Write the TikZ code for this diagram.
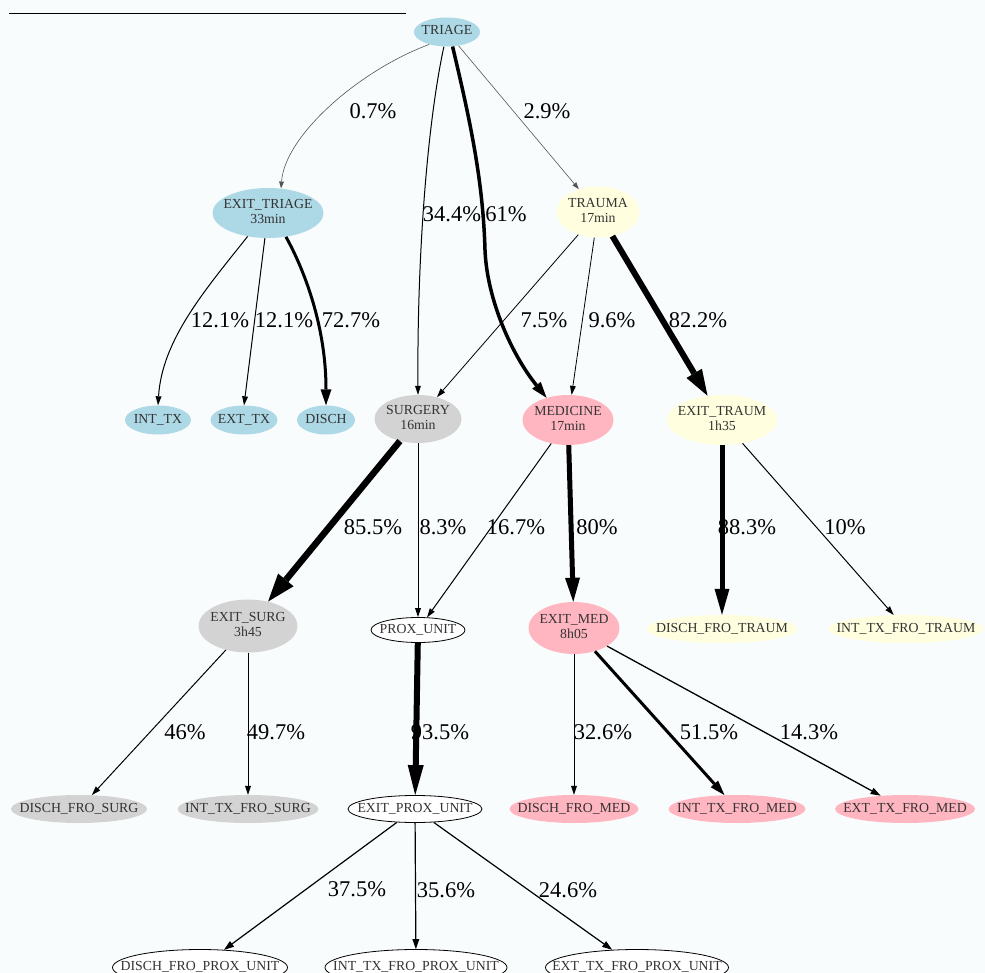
\documentclass[tikz,border=0pt]{standalone}
\usepackage{fontspec}
\setmainfont{Liberation Serif}
\usetikzlibrary{shapes.geometric,arrows.meta}
\definecolor{bg}{HTML}{F9FCFD}
\definecolor{nblue}{HTML}{ADD8E6}
\definecolor{nyel}{HTML}{FFFFE0}
\definecolor{ngray}{HTML}{D3D3D3}
\definecolor{npink}{HTML}{FFB6C1}
\definecolor{ntext}{HTML}{333333}
\definecolor{thin}{HTML}{555555}
\newcommand\nodetxt[1]{\makebox[0pt]{\begin{tabular}{@{}c@{}}#1\end{tabular}}}
\begin{document}
\begin{tikzpicture}[x=1pt,y=1pt,
  gnode/.style={ellipse, inner sep=0pt, text=ntext, font=\fontsize{13.8}{15}\selectfont},
  nsz/.style 2 args={minimum width=#1pt, minimum height=#2pt},
  fblue/.style={fill=nblue},
  fyel/.style={fill=nyel},
  fgray/.style={fill=ngray},
  fpink/.style={fill=npink},
  fwhite/.style={fill=white, draw=black, line width=0.8pt},
  lbl/.style={font=\fontsize{22.5}{24}\selectfont, inner sep=0pt},
  conn/.style={draw=black, line width=#1},
  ahead/.style 2 args={-{Triangle[length=#1pt,width=#2pt,line width=0pt]}}
]
\useasboundingbox (0,0) rectangle (985,-973);
\clip (0,0) rectangle (985,-973);
\fill[bg] (0,0) rectangle (985,-973);
\draw[line width=1pt] (9,-14) -- (406,-14);

% nodes
\node[gnode, fblue, nsz={66}{29}] (tri) at (447,-32) {\nodetxt{TRIAGE}};
\node[gnode, fblue, nsz={111}{50}] (etri) at (268,-213) {\nodetxt{EXIT\_TRIAGE\\33min}};
\node[gnode, fyel, nsz={83}{51}] (trau) at (598,-212) {\nodetxt{TRAUMA\\17min}};
\node[gnode, fblue, nsz={66}{29}] (intx) at (158,-420) {\nodetxt{INT\_TX}};
\node[gnode, fblue, nsz={67}{29}] (extx) at (244,-420) {\nodetxt{EXT\_TX}};
\node[gnode, fblue, nsz={58}{29}] (disch) at (326,-420) {\nodetxt{DISCH}};
\node[gnode, fgray, nsz={87}{48}] (surg) at (418,-419) {\nodetxt{SURGERY\\16min}};
\node[gnode, fpink, nsz={91}{50}] (med) at (568,-420) {\nodetxt{MEDICINE\\17min}};
\node[gnode, fyel, nsz={110}{50}] (etrau) at (722,-420) {\nodetxt{EXIT\_TRAUM\\1h35}};
\node[gnode, fgray, nsz={99}{53}] (esurg) at (248,-626) {\nodetxt{EXIT\_SURG\\3h45}};
\node[gnode, fwhite, nsz={94}{25}] (prox) at (418,-630) {\nodetxt{PROX\_UNIT}};
\node[gnode, fpink, nsz={91}{52}] (emed) at (574,-628) {\nodetxt{EXIT\_MED\\8h05}};
\node[gnode, fyel, nsz={151}{28}] (dft) at (722,-629) {\nodetxt{DISCH\_FRO\_TRAUM}};
\node[gnode, fyel, nsz={155}{28}] (itft) at (906,-629) {\nodetxt{INT\_TX\_FRO\_TRAUM}};
\node[gnode, fgray, nsz={136}{28}] (dfs) at (79,-809) {\nodetxt{DISCH\_FRO\_SURG}};
\node[gnode, fgray, nsz={141}{28}] (itfs) at (248,-809) {\nodetxt{INT\_TX\_FRO\_SURG}};
\node[gnode, fwhite, nsz={134}{27}] (eprox) at (415,-809) {\nodetxt{EXIT\_PROX\_UNIT}};
\node[gnode, fpink, nsz={129}{28}] (dfm) at (574,-809) {\nodetxt{DISCH\_FRO\_MED}};
\node[gnode, fpink, nsz={137}{28}] (itfm) at (737,-809) {\nodetxt{INT\_TX\_FRO\_MED}};
\node[gnode, fpink, nsz={140}{28}] (etfm) at (905,-809) {\nodetxt{EXT\_TX\_FRO\_MED}};
\node[gnode, fwhite, nsz={175}{36}] (dfp) at (200,-967.5) {\nodetxt{DISCH\_FRO\_PROX\_UNIT}};
\node[gnode, fwhite, nsz={182}{36}] (itfp) at (416,-967.5) {\nodetxt{INT\_TX\_FRO\_PROX\_UNIT}};
\node[gnode, fwhite, nsz={183}{36}] (etfp) at (637,-967.5) {\nodetxt{EXT\_TX\_FRO\_PROX\_UNIT}};

% edges from TRIAGE
\draw[conn=0.6pt, draw=thin, ahead={7}{5}] (tri.215) .. controls (360,-70) and (285,-135) .. (etri.62);
\draw[conn=1pt, ahead={9}{6}] (tri.258) .. controls (428,-120) and (417,-250) .. (surg.north);
\draw[conn=3.5pt, ahead={16}{11}] (tri.-69) .. controls (470,-120) and (483,-180) .. (485,-250)
   .. controls (487,-300) and (512,-355) .. (med.134);
\draw[conn=0.6pt, draw=thin, ahead={7}{5}] (tri) -- (trau);

% edges from EXIT_TRIAGE
\draw[conn=1pt, ahead={9}{6}] (etri.229) .. controls (205,-290) and (162,-340) .. (intx.north);
\draw[conn=1pt, ahead={9}{6}] (etri.263) -- (extx.north);
\draw[conn=3pt, ahead={16}{11}] (etri.-53) .. controls (300,-262) and (326,-320) .. (disch.north);

% edges from TRAUMA
\draw[conn=0.8pt, ahead={9}{6}] (trau) -- (surg);
\draw[conn=0.8pt, ahead={9}{6}] (trau) -- (med);
\draw[conn=6pt, ahead={26}{18}] (trau) -- (etrau);

% second level
\draw[conn=6.5pt, ahead={28}{20}] (surg) -- (esurg);
\draw[conn=1pt, ahead={9}{6}] (surg) -- (prox);
\draw[conn=1pt, ahead={9}{6}] (med) -- (prox);
\draw[conn=5pt, ahead={24}{15}] (med) -- (emed);
\draw[conn=5pt, ahead={26}{15}] (etrau) -- (dft);
\draw[conn=1pt, ahead={9}{6}] (etrau) -- (itft);

% third level
\draw[conn=1pt, ahead={9}{6}] (esurg) -- (dfs);
\draw[conn=1pt, ahead={9}{6}] (esurg) -- (itfs);
\draw[conn=6pt, ahead={30}{16}] (prox) -- (eprox);
\draw[conn=1pt, ahead={9}{6}] (emed) -- (dfm);
\draw[conn=3pt, ahead={15}{10}] (emed) -- (itfm);
\draw[conn=1.3pt, ahead={10}{7}] (emed) -- (etfm);

% fourth level
\draw[conn=1.2pt, ahead={10}{7}] (eprox) -- (dfp);
\draw[conn=1.2pt, ahead={10}{7}] (eprox) -- (itfp);
\draw[conn=1.2pt, ahead={10}{7}] (eprox) -- (etfp);

% labels
\node[lbl] (l1) at (373,-111) {0.7\%};
\node[lbl] (l2) at (547,-111) {2.9\%};
\node[lbl] (l3) at (452,-214) {34.4\%};
\node[lbl] (l4) at (506,-214) {61\%};
\node[lbl] (l5) at (220,-320) {12.1\%};
\node[lbl] (l6) at (284,-320) {12.1\%};
\node[lbl] (l7) at (351,-320) {72.7\%};
\node[lbl] (l8) at (544,-320) {7.5\%};
\node[lbl] (l9) at (612,-320) {9.6\%};
\node[lbl] (l10) at (698,-320) {82.2\%};
\node[lbl] (l11) at (373,-527) {85.5\%};
\node[lbl] (l12) at (443,-527) {8.3\%};
\node[lbl] (l13) at (516,-527) {16.7\%};
\node[lbl] (l14) at (597,-527) {80\%};
\node[lbl] (l15) at (747,-527) {88.3\%};
\node[lbl] (l16) at (845,-527) {10\%};
\node[lbl] (l17) at (185,-732) {46\%};
\node[lbl] (l18) at (276,-732) {49.7\%};
\node[lbl] (l19) at (440,-732) {93.5\%};
\node[lbl] (l20) at (603,-732) {32.6\%};
\node[lbl] (l21) at (709,-732) {51.5\%};
\node[lbl] (l22) at (809,-732) {14.3\%};
\node[lbl] (l23) at (357,-889) {37.5\%};
\node[lbl] (l24) at (446,-890) {35.6\%};
\node[lbl] (l25) at (568,-890) {24.6\%};
\end{tikzpicture}
\end{document}
